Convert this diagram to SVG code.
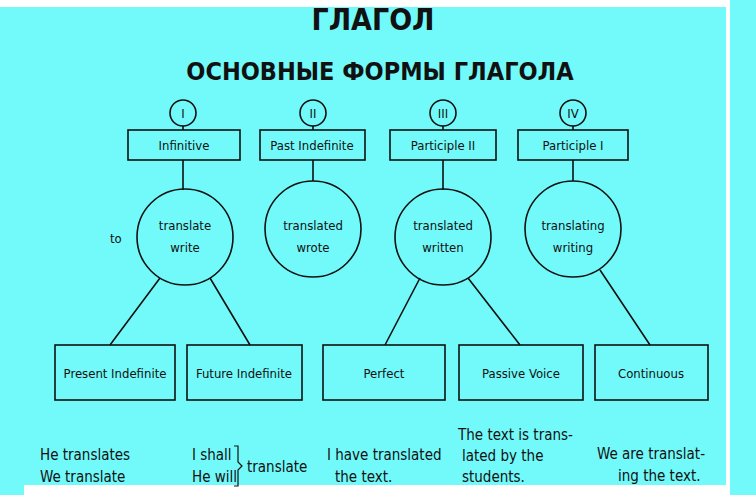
<svg xmlns="http://www.w3.org/2000/svg" width="756" height="495" viewBox="0 0 756 495">
<style>
.s{fill:none;stroke:#111;stroke-width:1.6}
text{font-family:"Liberation Sans Narrow","DejaVu Sans Condensed","Liberation Sans",sans-serif;fill:#111;font-size:13px}
.c{text-anchor:middle}
.t{font-size:15px}
</style>
<rect width="756" height="495" fill="#72fafa"/>
<rect x="0" y="0" width="726" height="7" fill="#fff"/>
<rect x="726" y="0" width="4" height="495" fill="#fff"/>
<rect x="24" y="485" width="702" height="10" fill="#fff"/>
<text class="c" x="373" y="30" style="font-size:30px;font-weight:bold;font-family:'DejaVu Sans Condensed',sans-serif">ГЛАГОЛ</text>
<text class="c" x="380" y="80" style="font-size:25px;font-weight:bold;font-family:'DejaVu Sans Condensed',sans-serif">ОСНОВНЫЕ ФОРМЫ ГЛАГОЛА</text>
<g id="connectors" class="s">
<path d="M183 126V130M183 160V190M313 126V130M313 160V181M443 126V130M443 160V190M573 126V130M573 160V181"/>
<path d="M160 278L110 345M210 278L250 345M420 278L385 345M468 278L520 345M600 270L650 345"/>
</g>
<g id="n1"><circle class="s" cx="183" cy="113" r="13"/><text class="c" x="183" y="118">I</text>
<rect class="s" x="128" y="130" width="112" height="30"/><text class="c" x="184" y="150">Infinitive</text>
<circle class="s" cx="185" cy="237" r="48"/><text class="c" x="185" y="230">translate</text><text class="c" x="185" y="252">write</text><text x="110" y="243">to</text></g>
<g id="n2"><circle class="s" cx="313" cy="113" r="13"/><text class="c" x="313" y="118">II</text>
<rect class="s" x="260" y="130" width="105" height="30"/><text class="c" x="312" y="150">Past Indefinite</text>
<circle class="s" cx="313" cy="229" r="48"/><text class="c" x="313" y="230">translated</text><text class="c" x="313" y="252">wrote</text></g>
<g id="n3"><circle class="s" cx="443" cy="113" r="13"/><text class="c" x="443" y="118">III</text>
<rect class="s" x="390" y="130" width="106" height="30"/><text class="c" x="443" y="150">Participle II</text>
<circle class="s" cx="443" cy="237" r="48"/><text class="c" x="443" y="230">translated</text><text class="c" x="443" y="252">written</text></g>
<g id="n4"><circle class="s" cx="573" cy="113" r="13"/><text class="c" x="573" y="118">IV</text>
<rect class="s" x="518" y="130" width="110" height="30"/><text class="c" x="573" y="150">Participle I</text>
<circle class="s" cx="573" cy="229" r="48"/><text class="c" x="573" y="230">translating</text><text class="c" x="573" y="252">writing</text></g>
<g id="b1"><rect class="s" x="55" y="345" width="120" height="55"/><text class="c" x="115" y="378">Present Indefinite</text></g>
<g id="b2"><rect class="s" x="187" y="345" width="115" height="55"/><text class="c" x="244" y="378">Future Indefinite</text></g>
<g id="b3"><rect class="s" x="323" y="345" width="122" height="55"/><text class="c" x="384" y="378">Perfect</text></g>
<g id="b4"><rect class="s" x="459" y="345" width="124" height="55"/><text class="c" x="521" y="378">Passive Voice</text></g>
<g id="b5"><rect class="s" x="595" y="345" width="113" height="55"/><text class="c" x="651" y="378">Continuous</text></g>
<g class="t">
<text class="t" x="40" y="460">He translates</text><text class="t" x="40" y="482">We translate</text>
<text class="t" x="192" y="460">I shall</text><text class="t" x="192" y="482">He will</text>
<path class="s" d="M234 446h4v16l4 4l-4 4v16h-4" style="stroke-width:1.2"/>
<text class="t" x="247" y="472">translate</text>
<text class="t" x="327" y="460">I have translated</text><text class="t" x="335" y="482">the text.</text>
<text class="t" x="458" y="440">The text is trans-</text><text class="t" x="462" y="461">lated by the</text><text class="t" x="462" y="482">students.</text>
<text class="t" x="597" y="459">We are translat-</text><text class="t" x="618" y="481">ing the text.</text>
</g>
</svg>
